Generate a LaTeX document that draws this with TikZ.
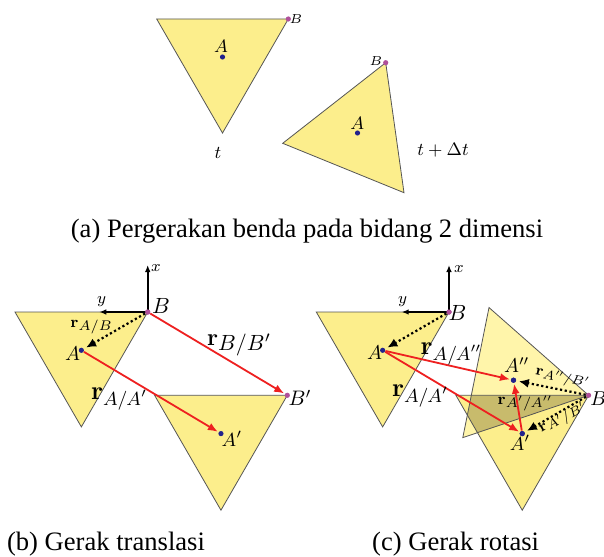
\RequirePackage{fix-cm}
\documentclass[tikz,border=0pt]{standalone}
\usepackage[no-math]{fontspec}
\setmainfont{Liberation Serif}
\usetikzlibrary{arrows.meta}
\definecolor{triy}{HTML}{FCEE8C}
\definecolor{trilight}{HTML}{FFF5AA}
\definecolor{tridark}{HTML}{C8BB6C}
\definecolor{edgegray}{HTML}{555555}
\definecolor{dotblue}{HTML}{22228C}
\definecolor{dotpink}{HTML}{B0509A}
\definecolor{arrred}{HTML}{EE2020}
\newcommand{\fsz}[1]{\fontsize{#1}{#1}\selectfont}
\newcommand{\rlab}[4]{{\fsz{#1}$\mathbf{r}$}\raisebox{-#3}{\fsz{#2}$#4$}}
\begin{document}
\begin{tikzpicture}[x=0.5pt,y=-0.5pt,
  tri/.style={fill=triy,draw=edgegray,line width=0.4pt},
  bdot/.style={circle,fill=dotblue,inner sep=0pt,minimum size=2.6pt},
  pdot/.style={circle,fill=dotpink,inner sep=0pt,minimum size=2.6pt},
  lbl/.style={inner sep=0pt},
  redarr/.style={draw=arrred,line width=0.9pt,-{Latex[length=5pt,width=4pt]},shorten >=0.3pt},
  dotarr/.style={draw=black,line width=1.1pt,dash pattern=on 1.1pt off 1.3pt,-{Latex[length=5pt,width=4.5pt]},shorten >=1.2pt},
  axisarr/.style={draw=black,line width=0.9pt,-{Latex[length=3.5pt,width=2.8pt]}},
  captext/.style={inner sep=0pt,anchor=base,font=\fsz{13.3}}]
\path[use as bounding box,fill=white] (0,0) rectangle (604,556);

% ---------------- (a) ----------------
\draw[tri] (156.7,19) -- (288.3,19) -- (222.5,133) -- cycle;
\draw[tri] (385.7,62.7) -- (282.7,143.3) -- (404,192.7) -- cycle;
\node[bdot] (aA1) at (222.5,57) {};
\node[pdot] (aB1) at (288.3,19) {};
\node[bdot] (aA2) at (357.5,133) {};
\node[pdot] (aB2) at (385.7,62.7) {};
\node[lbl] (laA1) at (221,46.5) {\fsz{9}$A$};
\node[lbl] (laB1) at (296,19.5) {\fsz{6.5}$B$};
\node[lbl] (laA2) at (357.3,123.5) {\fsz{9}$A$};
\node[lbl] (laB2) at (376,61) {\fsz{6.5}$B$};
\node[lbl] (lt1) at (218,153) {\fsz{9}$t$};
\node[lbl] (lt2) at (443,150) {\fsz{9}$t+\Delta t$};
\node[captext] (capa) at (307,237) {(a) Pergerakan benda pada bidang 2 dimensi};

% ---------------- (b) ----------------
\draw[tri] (15,312) -- (147.7,312) -- (81.35,426.9) -- cycle;
\draw[tri] (154.6,395.3) -- (287.3,395.3) -- (220.95,510.2) -- cycle;
\node[pdot] (bB) at (147.7,312) {};
\node[bdot] (bA) at (81.35,350.3) {};
\node[pdot] (bBp) at (287.3,395.3) {};
\node[bdot] (bAp) at (220.95,433.6) {};
\coordinate (bX) at (147.7,265);
\coordinate (bY) at (99.3,312);
\draw[axisarr] (bB.center) -- (bX);
\draw[axisarr] (bB.center) -- (bY);
\draw[dotarr] (bB) -- (bA);
\draw[redarr] (bB) -- (bBp);
\draw[redarr] (bA) -- (bAp);
\node[pdot] at (bB) {};
\node[lbl] (lbx) at (156,268) {\fsz{8}$x$};
\node[lbl] (lby) at (101.7,302) {\fsz{8}$y$};
\node[lbl] (lbB) at (161,306) {\fsz{11}$B$};
\node[lbl] (lbA) at (72.5,354) {\fsz{10}$A$};
\node[lbl] (lbBp) at (300,398) {\fsz{10.5}$B'$};
\node[lbl] (lbAp) at (232,439) {\fsz{9.5}$A'$};
\node[lbl] (lrAB) at (91,326.5) {\rlab{8}{7}{1.5pt}{A/B}};
\node[lbl] (lrBB) at (239,345) {\rlab{12}{11}{2.5pt}{B/B'}};
\node[lbl] (lrAA) at (119,399) {\rlab{13}{9.5}{3.3pt}{A/A'}};
\node[captext] (capb) at (106,550) {(b) Gerak translasi};

% ---------------- (c) ----------------
\draw[tri] (316.3,312) -- (449,312) -- (382.65,426.9) -- cycle;
\fill[triy] (455.9,395.3) -- (588.6,395.3) -- (522.25,510.2) -- cycle;
\fill[trilight] (588.6,395.3) -- (489.0,307.55) -- (462.8,437.6) -- cycle;
\begin{scope}
  \clip (455.9,395.3) -- (588.6,395.3) -- (522.25,510.2) -- cycle;
  \fill[tridark] (588.6,395.3) -- (489.0,307.55) -- (462.8,437.6) -- cycle;
\end{scope}
\draw[draw=edgegray,line width=0.4pt] (455.9,395.3) -- (588.6,395.3) -- (522.25,510.2) -- cycle;
\draw[draw=edgegray,line width=0.4pt] (588.6,395.3) -- (489.0,307.55) -- (462.8,437.6) -- cycle;
\node[pdot] (cB) at (449,312) {};
\node[bdot] (cA) at (382.65,350.3) {};
\node[pdot] (cBp) at (588.6,395.3) {};
\node[bdot] (cAp) at (522.25,433.6) {};
\node[bdot] (cApp) at (513.5,380.2) {};
\coordinate (cX) at (449,265);
\coordinate (cY) at (401.7,312);
\draw[axisarr] (cB.center) -- (cX);
\draw[axisarr] (cB.center) -- (cY);
\draw[dotarr] (cB) -- (cA);
\draw[dotarr] (cBp) -- (cApp);
\draw[dotarr] (cBp) -- (cAp);
\draw[redarr] (cA) -- (cApp);
\draw[redarr] (cA) -- (cAp);
\draw[redarr] (cAp) -- (cApp);
\node[pdot] at (cB) {};
\node[bdot] at (cAp) {};
\node[bdot] at (cApp) {};
\node[lbl] (lcx) at (459,269) {\fsz{8}$x$};
\node[lbl] (lcy) at (402.5,302) {\fsz{8}$y$};
\node[lbl] (lcB) at (457.5,312.5) {\fsz{11}$B$};
\node[lbl] (lcA) at (374.5,353) {\fsz{10}$A$};
\node[lbl] (lcApp) at (516.7,365) {\fsz{10}$A''$};
\node[lbl] (lcAp) at (520,443) {\fsz{9.5}$A'$};
\node[lbl,anchor=west] (lcBp) at (590,398) {\fsz{10}$B'$};
\node[lbl] (lrAApp) at (451,354) {\rlab{13}{9.5}{3.3pt}{A/A''}};
\node[lbl] (lrAAp) at (420,396) {\rlab{13}{9.5}{3.3pt}{A/A'}};
\node[lbl,rotate=-11] (lrAppB) at (562,378.5) {\rlab{7.5}{6.5}{1.3pt}{A''/B'}};
\node[lbl,rotate=30] (lrApB) at (563,419) {\rlab{7.5}{6.5}{1.3pt}{A'/B'}};
\node[lbl] (lrApApp) at (525,403.5) {\rlab{8}{7}{1.3pt}{A'/A''}};
\node[captext] (capc) at (455.6,550) {(c) Gerak rotasi};
\end{tikzpicture}
\end{document}
